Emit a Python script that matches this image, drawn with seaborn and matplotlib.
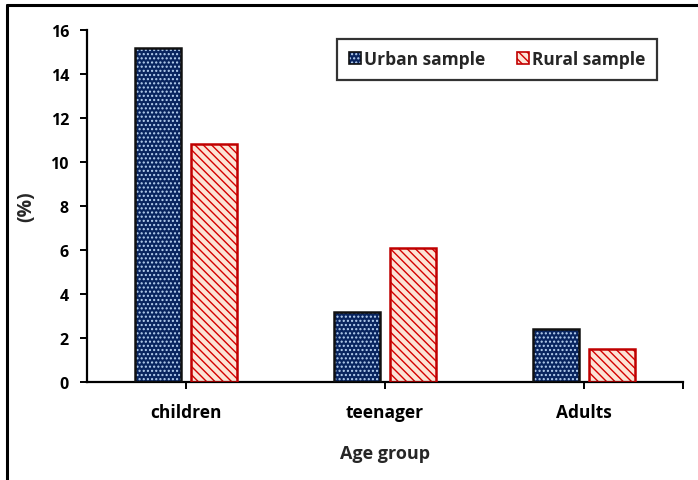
import matplotlib
matplotlib.use("Agg")
import matplotlib.pyplot as plt
import pandas as pd
import seaborn as sns
from matplotlib.legend_handler import HandlerTuple
from matplotlib.lines import Line2D
from matplotlib.patches import Patch, Rectangle

groups = ["children", "teenager", "Adults"]
urban = [15.2, 3.2, 2.4]
rural = [10.8, 6.1, 1.5]
series = ["Urban sample", "Rural sample"]

styles = {
    "Urban sample": dict(fill="#08245f", hatch_col="#b8d2f2", edge="#111111", hatch="...."),
    "Rural sample": dict(fill="#fce4d6", hatch_col="#d40000", edge="#c00000", hatch="\\\\\\\\"),
}

df = pd.DataFrame({
    "group": groups * 2,
    "value": urban + rural,
    "sample": [series[0]] * 3 + [series[1]] * 3,
})

sns.set_style("white")
plt.rcParams["font.family"] = ["Open Sans", "DejaVu Sans"]
plt.rcParams["font.weight"] = "bold"
plt.rcParams["hatch.linewidth"] = 1.0

fig = plt.figure(figsize=(6.98, 4.81), dpi=100)
ax = fig.add_axes([87 / 698, 98 / 481, 596 / 698, 352 / 481])

sns.barplot(data=df, x="group", y="value", hue="sample", hue_order=series,
            order=groups, width=0.562, gap=0.178, errorbar=None, legend=False, ax=ax)

# paint hatch and outlines bar by bar
n = len(groups)
for i, p in enumerate(list(ax.patches)[:2 * n]):
    st = styles[series[i // n]]
    p.set_facecolor(st["fill"])
    p.set_edgecolor(st["hatch_col"])
    p.set_hatch(st["hatch"])
    p.set_linewidth(0)
    ax.add_patch(Rectangle(p.get_xy(), p.get_width(), p.get_height(),
                           fill=False, edgecolor=st["edge"], linewidth=1.8, zorder=3))

ax.set_xlim(-0.5, 2.5)
ax.set_ylim(0, 16)
ax.set_yticks(range(0, 17, 2))
ax.set_xticks([0, 1, 2, 2.5])
ax.set_xticklabels(groups + [""])

for s in ["top", "right"]:
    ax.spines[s].set_visible(False)
for s in ["left", "bottom"]:
    ax.spines[s].set_color("black")
    ax.spines[s].set_linewidth(1.6)

ax.tick_params(axis="both", which="both", direction="out", length=5, width=1.4,
               colors="black", labelsize=11.5, left=True, bottom=True)
ax.tick_params(axis="x", labelsize=12.5, pad=10)
ax.tick_params(axis="y", pad=8)
for lab in ax.get_xticklabels() + ax.get_yticklabels():
    lab.set_fontweight("bold")

ax.set_xlabel("Age group", fontsize=13, fontweight="bold", labelpad=17)
ax.set_ylabel("(%)", fontsize=14, fontweight="bold", labelpad=10)

handles = []
for name in series:
    st = styles[name]
    handles.append((Patch(facecolor=st["fill"], edgecolor=st["hatch_col"], hatch=st["hatch"], linewidth=0),
                    Patch(facecolor="none", edgecolor=st["edge"], linewidth=1.2)))
leg = ax.legend(handles, series, handler_map={tuple: HandlerTuple(ndivide=1)},
                loc="upper right", bbox_to_anchor=(570 / 596, 343 / 352), borderaxespad=0,
                ncol=2, prop={"weight": "bold", "size": 12.5}, frameon=True, fancybox=False,
                edgecolor="black", handlelength=0.7, handleheight=0.7,
                handletextpad=0.2, columnspacing=1.8, borderpad=0.65)
leg.get_frame().set_linewidth(1.6)

# outer frame lines (left and top)
fig.add_artist(Line2D([6.5 / 698, 6.5 / 698], [0, 1 - 5.5 / 481], color="black", lw=2.2,
                      transform=fig.transFigure))
fig.add_artist(Line2D([6.5 / 698, 1], [1 - 5.5 / 481, 1 - 5.5 / 481], color="black", lw=2.2,
                      transform=fig.transFigure))

fig.savefig("out.png", dpi=100)
